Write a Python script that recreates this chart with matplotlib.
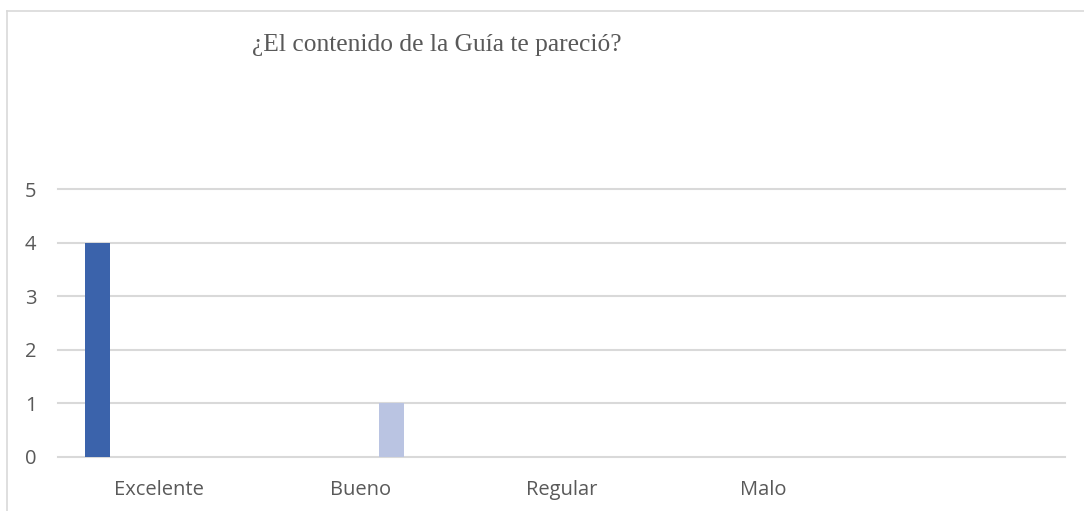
import matplotlib
matplotlib.use("Agg")
import matplotlib.pyplot as plt
import numpy as np

title = "¿El contenido de la Guía te pareció?"
categories = ["Excelente", "Bueno", "Regular", "Malo", ""]
series_excelente = [4, 0, 0, 0, 0]
series_bueno = [0, 1, 0, 0, 0]
y_ticks = [0, 1, 2, 3, 4, 5]

W, H = 1084, 511
fig = plt.figure(figsize=(W / 100, H / 100), dpi=100)
fig.patch.set_facecolor("white")

# outer chart border (top and left visible)
fig.add_artist(plt.Line2D([7 / W, 1], [1 - 11 / H, 1 - 11 / H], color="#D9D9D9", lw=1.2))
fig.add_artist(plt.Line2D([7 / W, 7 / W], [0, 1 - 11 / H], color="#D9D9D9", lw=1.2))

ax = fig.add_axes([58 / W, 1 - 456.7 / H, (1065 - 58) / W, (456.7 - 189) / H])
x = np.arange(len(categories))
bw = 0.124
ax.bar(x - 0.305, series_excelente, width=bw, color="#3B63AB", zorder=3)
ax.bar(x + 0.156, series_bueno, width=bw, color="#BAC4E2", zorder=3)

ax.set_xlim(-0.5, len(categories) - 0.5)
ax.set_ylim(0, 5)
ax.set_yticks(y_ticks)
ax.set_xticks(x)
ax.set_xticklabels(categories)
for s in ax.spines.values():
    s.set_visible(False)
ax.grid(axis="y", color="#D9D9D9", lw=1.5, zorder=0)
for gl in ax.get_ygridlines():
    gl.set_clip_on(False)
ax.tick_params(length=0, labelsize=14.5, colors="#595959")
ax.tick_params(axis="y", pad=15.5)
ax.tick_params(axis="x", pad=17)
for t in ax.get_xticklabels() + ax.get_yticklabels():
    t.set_fontfamily("Open Sans")

fig.text(437 / W, 1 - 45 / H, title, ha="center", va="center",
         fontsize=18.4, family="Liberation Serif", color="#595959")

fig.savefig("out.png", dpi=100)
